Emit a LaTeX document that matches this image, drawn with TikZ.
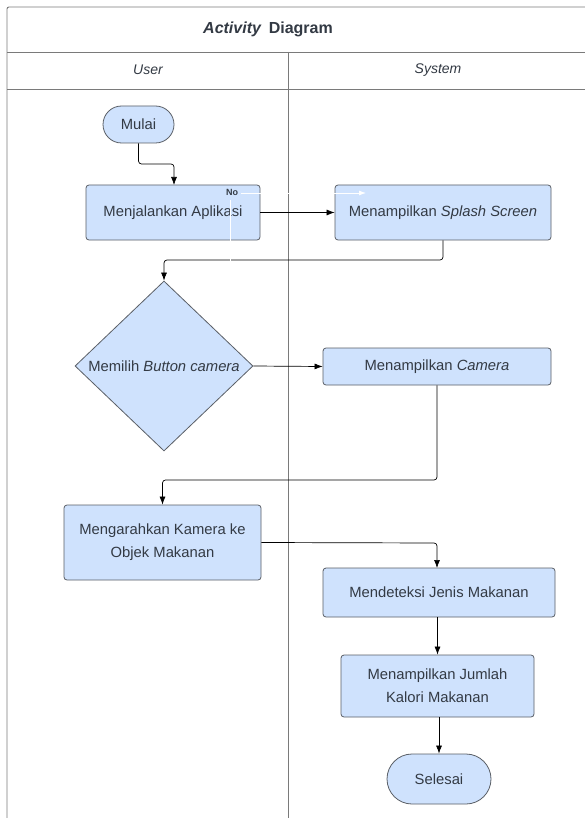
\documentclass[tikz,border=0pt]{standalone}
\usepackage{fontspec}
\setmainfont{Liberation Sans}
\usetikzlibrary{shapes.geometric,shapes.misc,arrows.meta}
\definecolor{boxfill}{HTML}{CFE2FD}
\definecolor{boxline}{HTML}{5A5F66}
\definecolor{txt}{HTML}{333A44}
\definecolor{frame}{HTML}{7A7A7A}
\tikzset{
  x=1pt,y=-1pt,
  actbox/.style={draw=boxline,fill=boxfill,rounded corners=3pt,line width=0.8pt,
    text=txt,font=\fontsize{14.8}{23}\selectfont,align=center,inner sep=0pt},
  pill/.style={draw=boxline,fill=boxfill,rounded rectangle,line width=0.8pt,
    text=txt,font=\fontsize{14.8}{18}\selectfont,inner sep=0pt},
  decision/.style={draw=boxline,fill=boxfill,diamond,line width=0.8pt,inner sep=0pt,aspect=1.05},
  flow/.style={draw=black,line width=0.7pt,rounded corners=3pt,-{Latex[length=8pt,width=6pt]}},
  lane/.style={draw=frame,line width=0.9pt},
  lanetext/.style={text=txt,font=\fontsize{14}{17}\selectfont\itshape},
}
\begin{document}
\begin{tikzpicture}
\useasboundingbox[fill=white] (0,0) rectangle (585,818);
% frame
\draw[lane,rounded corners=2pt] (7,818) -- (7,7) -- (585,7);
\draw[lane] (7,52) -- (585,52);
\draw[lane] (7,89) -- (585,89);
\draw[lane] (288,52) -- (288,818);
\node[text=txt,font=\fontsize{16}{19}\selectfont\bfseries] (title) at (268,29) {\textit{Activity}\, Diagram};
\node[lanetext] (user) at (148,70) {User};
\node[lanetext] (system) at (438,70) {System};
% nodes
\node[pill,minimum width=71pt,minimum height=37pt] (mulai) at (138.5,124.5) {Mulai};
\node[actbox,minimum width=174pt,minimum height=55pt] (jalan) at (173,212.5) {Menjalankan Aplikasi};
\node[actbox,minimum width=216pt,minimum height=55pt] (splash) at (443,212.5) {Menampilkan \textit{Splash Screen}};
\node[decision,minimum width=178pt,minimum height=170pt] (pilih) at (164,366) {};
\node[text=txt,font=\fontsize{14.8}{18}\selectfont] (pilihtext) at (pilih.center) {Memilih \textit{Button camera}};
\node[actbox,minimum width=228pt,minimum height=37pt] (camera) at (437,366.5) {Menampilkan \textit{Camera}};
\node[actbox,minimum width=197pt,minimum height=75pt] (arah) at (162.5,542.5) {Mengarahkan Kamera ke\\Objek Makanan};
\node[actbox,minimum width=232pt,minimum height=49pt] (deteksi) at (439,592.5) {Mendeteksi Jenis Makanan};
\node[actbox,minimum width=193pt,minimum height=62pt] (jumlah) at (437.5,686) {Menampilkan Jumlah\\Kalori Makanan};
\node[pill,minimum width=104pt,minimum height=50pt] (selesai) at (439,779) {Selesai};
% connectors
\draw[flow] (mulai.south) -- (138.5,164) -- (174,164) -- (174,185);
\draw[flow] (jalan.east) -- (splash.west);
\draw[flow] (splash.south) -- (443,260) -- (164,260) -- (pilih.north);
\draw[flow] (pilih.east) -- (camera.west);
\draw[flow] (camera.south) -- (437,480) -- (162.5,480) -- (arah.north);
\draw[flow] (arah.east) -- (437,543) -- (437,568);
\draw[flow] (deteksi.south -| jumlah.north) -- (jumlah.north);
\draw[flow] (jumlah.south -| selesai.north) -- (selesai.north);
% white artifact of hidden connector
\node[text=txt,font=\fontsize{9}{10}\selectfont\bfseries] (no) at (232,192) {No};
\coordinate (nostart) at (241,193);
\coordinate (noend) at (366,193);
\draw[white,line width=0.8pt,-{Latex[length=7pt,width=5pt]}] (nostart) -- (noend);
\coordinate (vtop) at (230,200);
\coordinate (vbot) at (230,263);
\draw[white,line width=0.8pt] (vtop) -- (vbot);
\end{tikzpicture}
\end{document}
